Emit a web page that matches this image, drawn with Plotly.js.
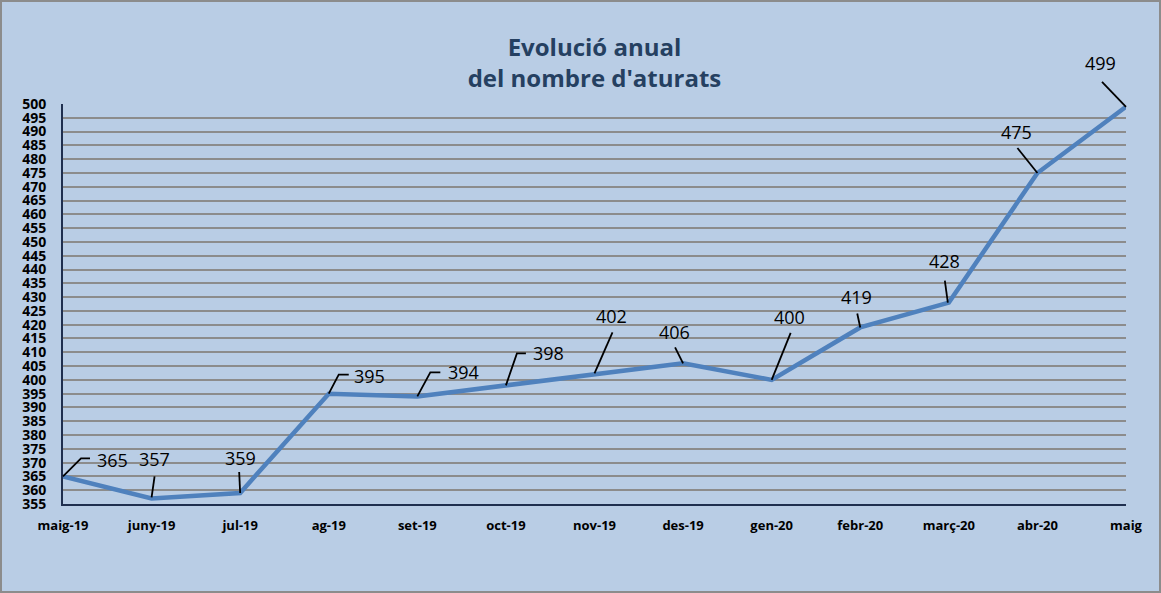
<!DOCTYPE html>
<html>
<head>
<meta charset="utf-8">
<script src="https://cdn.plot.ly/plotly-3.0.1.min.js"></script>
<style>
html, body { margin: 0; padding: 0; background: #B9CDE5; }
#chart { width: 1157px; height: 589px; border: 2px solid #8C8C8C; }
</style>
</head>
<body>
<div id="chart"></div>
<script>
const months = ["maig-19", "juny-19", "jul-19", "ag-19", "set-19", "oct-19", "nov-19", "des-19", "gen-20", "febr-20", "març-20", "abr-20", "maig"];
const aturats = [365, 357, 359, 395, 394, 398, 402, 406, 400, 419, 428, 475, 499];
const yTicks = [355, 360, 365, 370, 375, 380, 385, 390, 395, 400, 405, 410, 415, 420, 425, 430, 435, 440, 445, 450, 455, 460, 465, 470, 475, 480, 485, 490, 495, 500];
const yMin = 355, yMax = 500;

// data-label placement (pixel offsets from each point, screen y downward)
const labelDx = [49, 3, 0, 41, 46, 43, 17, -9, 18, -4, -4, -21, -26];
const labelDy = [-16, -39, -35, -18, -24, -32, -58, -31, -63, -30, -42, -41, -44];
// leader-line paths (pixel offsets from each point, screen y downward)
const leaders = [
  [[0, 0], [18, -18], [27, -18]],
  [[0, -1], [3, -22]],
  [[0, 0], [-1, -21]],
  [[0, 0], [10, -19], [20, -19]],
  [[0, 0], [13, -24], [23, -24]],
  [[0, 0], [11, -32], [20, -32]],
  [[0, -1], [18, -42]],
  [[0, 0], [-8, -16]],
  [[0, 0], [19, -47]],
  [[0, 0], [-3, -14]],
  [[-1, 0], [-4, -22]],
  [[0, 0], [-20, -25]],
  [[0, 0], [-24, -25]]
];

const annotations = months.map((m, i) => ({
  x: i, y: aturats[i], xref: 'x', yref: 'y',
  text: String(aturats[i]),
  showarrow: false, xanchor: 'center', yanchor: 'middle',
  xshift: labelDx[i], yshift: -labelDy[i],
  font: { family: 'Open Sans, sans-serif', size: 18, color: '#000000' }
}));

// leaders anchored at each data point (converted to paper fractions so they are not clipped)
const shapes = months.map((m, i) => ({
  type: 'path', xref: 'paper', yref: 'paper',
  xsizemode: 'pixel', ysizemode: 'pixel',
  xanchor: i / (months.length - 1), yanchor: (aturats[i] - yMin) / (yMax - yMin),
  path: leaders[i].map((p, k) => (k === 0 ? 'M' : 'L') + p[0] + ',' + (-p[1])).join(' '),
  line: { color: '#000000', width: 1.8 },
  layer: 'above'
}));

const trace = {
  x: months, y: aturats, type: 'scatter', mode: 'lines',
  line: { color: '#4F81BD', width: 4.5 },
  hoverinfo: 'x+y'
};

const layout = {
  width: 1157, height: 589,
  paper_bgcolor: '#B9CDE5', plot_bgcolor: '#B9CDE5',
  margin: { l: 61, r: 33, t: 102, b: 87 },
  showlegend: false,
  title: {
    text: "Evolució anual<br>del nombre d'aturats",
    x: 0.5, xanchor: 'center', xref: 'paper',
    y: 0.908, yanchor: 'middle', yref: 'container',
    font: { family: 'Open Sans, sans-serif', size: 24, color: '#254061', weight: 'bold' }
  },
  xaxis: {
    type: 'category', range: [0, months.length - 1], showgrid: false,
    showline: true, linecolor: '#1F2F4F', linewidth: 2,
    ticks: '', ticklabelstandoff: 8,
    tickfont: { family: 'Open Sans, sans-serif', size: 13, color: '#000000', weight: 'bold' },
    zeroline: false, fixedrange: true
  },
  yaxis: {
    range: [yMin, yMax], tickvals: yTicks, ticktext: yTicks.map(String),
    showgrid: true, gridcolor: '#8C8C8C', gridwidth: 1.5,
    showline: true, linecolor: '#1F2F4F', linewidth: 2,
    ticks: '', ticklabelstandoff: 12,
    tickfont: { family: 'Open Sans, sans-serif', size: 14, color: '#000000', weight: 'bold' },
    zeroline: false, fixedrange: true
  },
  annotations: annotations,
  shapes: shapes
};

Plotly.newPlot('chart', [trace], layout, { displayModeBar: false });
</script>
</body>
</html>
